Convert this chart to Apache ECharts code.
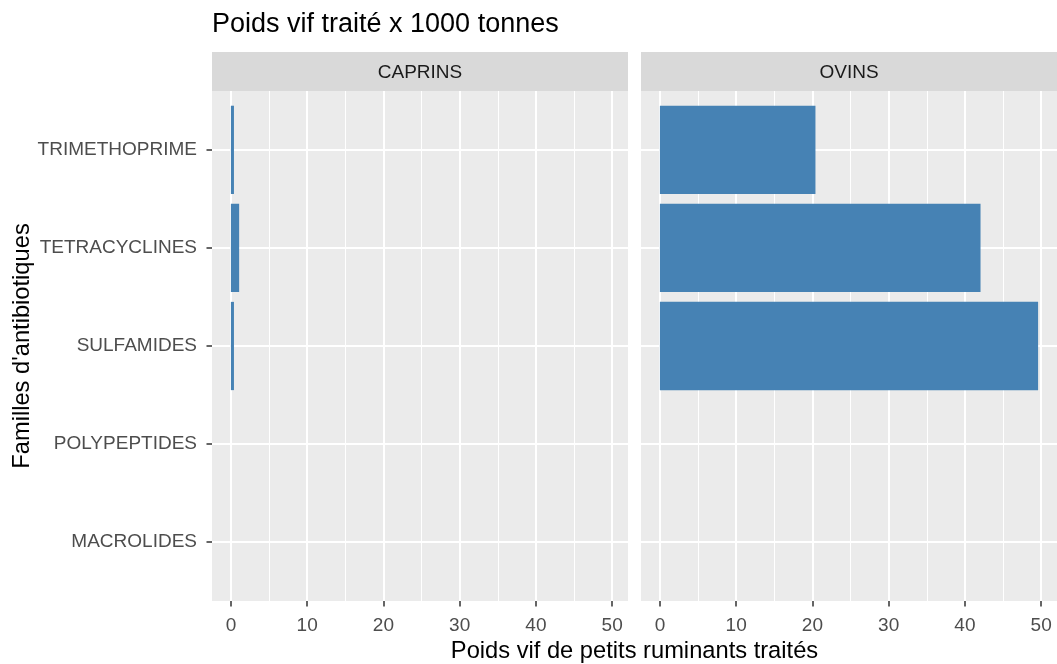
<!DOCTYPE html>
<html>
<head>
<meta charset="utf-8">
<script src="https://cdn.jsdelivr.net/npm/echarts@6/dist/echarts.min.js"></script>
<style>
  html, body { margin: 0; padding: 0; background: #fff; }
  #chart { width: 1057px; height: 664px; }
</style>
</head>
<body>
<div id="chart"></div>
<script>
// données
const familles = ["MACROLIDES", "POLYPEPTIDES", "SULFAMIDES", "TETRACYCLINES", "TRIMETHOPRIME"];
const facettes = ["CAPRINS", "OVINS"];
const caprins = [0, 0, 0.4, 1.08, 0.4];
const ovins = [0, 0, 49.6, 42.05, 20.4];
const xTicks = [0, 10, 20, 30, 40, 50];
const xMinor = [5, 15, 25, 35, 45];
const yPos = [0, 1, 2, 3, 4];

const font = "Liberation Sans, Arial, sans-serif";
const seriesData = [caprins, ovins];
const lefts = [212, 641];
const W = 416, TOP = 91, H = 510;
const unit = H / 5.2;
const xMin = -2.48, xMax = 52.08;

const grid = [];
const xAxis = [];
const yAxis = [];
const series = [];
const graphic = [];

lefts.forEach((left, i) => {
  // fond du panneau (lignes de grille)
  grid.push({ left: left, top: TOP, width: W, height: H, show: true, backgroundColor: "#EBEBEB", borderWidth: 0 });
  // barres
  grid.push({ left: left, top: TOP + 0.1 * unit, width: W, height: 5 * unit });
  const gBg = 2 * i, gFg = 2 * i + 1;

  // axe x principal
  xAxis.push({
    type: "value", gridIndex: gBg, min: xMin, max: xMax, position: "bottom",
    axisLine: { show: false, onZero: false },
    axisTick: { show: true, length: 5.5, customValues: xTicks, lineStyle: { color: "#333333", width: 1.5 } },
    axisLabel: { show: true, customValues: xTicks, margin: 15, color: "#4D4D4D", fontSize: 19, fontFamily: font },
    splitLine: { show: true, lineStyle: { color: "#FFFFFF", width: 2 } }
  });
  // lignes mineures
  xAxis.push({
    type: "value", gridIndex: gBg, min: xMin, max: xMax, position: "top",
    axisLine: { show: false, onZero: false },
    axisTick: { show: false, customValues: xMinor },
    axisLabel: { show: false },
    splitLine: { show: true, lineStyle: { color: "#FFFFFF", width: 1 } }
  });
  // axe x des barres
  xAxis.push({
    type: "value", gridIndex: gFg, min: xMin, max: xMax, show: false,
    axisLine: { onZero: false },
    splitLine: { show: false }
  });

  yAxis.push({
    type: "value", gridIndex: gBg, min: -0.6, max: 4.6,
    axisLine: { show: false, onZero: false },
    axisTick: { show: false, customValues: yPos },
    axisLabel: { show: false },
    splitLine: { show: true, lineStyle: { color: "#FFFFFF", width: 2 } }
  });
  yAxis.push({
    type: "category", gridIndex: gFg, data: familles,
    show: i === 0,
    axisLine: { show: false, onZero: false },
    axisTick: { show: true, alignWithLabel: true, length: 5.5, lineStyle: { color: "#333333", width: 1.5 } },
    axisLabel: { margin: 15, color: "#4D4D4D", fontSize: 19, fontFamily: font },
    splitLine: { show: false }
  });

  series.push({
    type: "bar",
    name: facettes[i],
    xAxisIndex: 3 * i + 2,
    yAxisIndex: 2 * i + 1,
    data: seriesData[i],
    barWidth: "90%",
    itemStyle: { color: "#4682B4" },
    silent: true
  });

  // bandeau de facette
  graphic.push({
    type: "rect", left: left, top: 52, shape: { width: W, height: 39 },
    style: { fill: "#D9D9D9" }
  });
  graphic.push({
    type: "text", x: left + W / 2, y: 73,
    style: { text: facettes[i], font: "19px " + font, fill: "#1A1A1A", textAlign: "center", textVerticalAlign: "middle" }
  });
});

// titres
graphic.push({
  type: "text", x: 212, y: 25,
  style: { text: "Poids vif traité x 1000 tonnes", font: "27px " + font, fill: "#000000", textAlign: "left", textVerticalAlign: "middle" }
});
graphic.push({
  type: "text", x: (212 + 1057) / 2, y: 651,
  style: { text: "Poids vif de petits ruminants traités", font: "23.7px " + font, fill: "#000000", textAlign: "center", textVerticalAlign: "middle" }
});
graphic.push({
  type: "text", x: 22, y: 346, rotation: Math.PI / 2,
  style: { text: "Familles d'antibiotiques", font: "23.7px " + font, fill: "#000000", textAlign: "center", textVerticalAlign: "middle" }
});

const chart = echarts.init(document.getElementById("chart"), null, { renderer: "canvas" });
chart.setOption({
  animation: false,
  backgroundColor: "#FFFFFF",
  grid: grid,
  xAxis: xAxis,
  yAxis: yAxis,
  series: series,
  graphic: graphic
});
</script>
</body>
</html>
